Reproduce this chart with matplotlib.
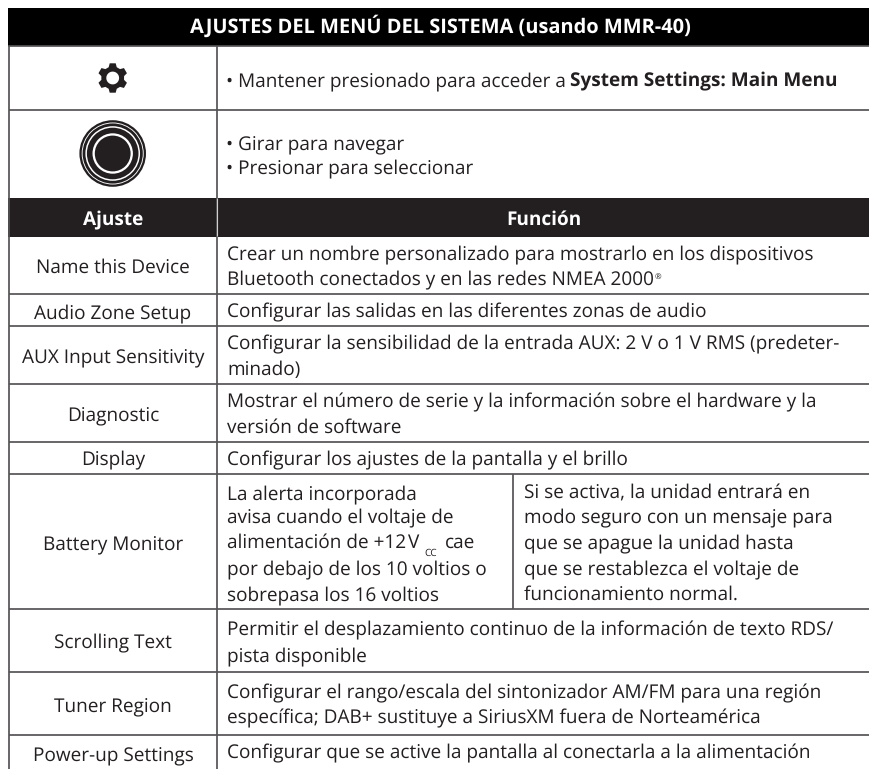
import numpy as np
import matplotlib
matplotlib.use("Agg")
import matplotlib.pyplot as plt
from matplotlib.patches import Rectangle, Circle, PathPatch
from matplotlib.path import Path

plt.rcParams["text.hinting"] = "no_hinting"
plt.rcParams["text.hinting_factor"] = 1

FONT = "Open Sans"
SIZE = 13.6
BOLD = 13.5
HEAD = 13.9
TITLE = 14.3
INK = "#231f20"
LINE = "#555355"

title = "AJUSTES DEL MENÚ DEL SISTEMA (usando MMR-40)"
intro_normal = "• Mantener presionado para acceder a "
intro_bold = "System Settings: Main Menu"
nav_lines = ["• Girar para navegar", "• Presionar para seleccionar"]
col_headers = ["Ajuste", "Función"]

settings = ["Name this Device", "Audio Zone Setup", "AUX Input Sensitivity", "Diagnostic",
            "Display", "Battery Monitor", "Scrolling Text", "Tuner Region", "Power-up Settings"]
setting_base = [272.5, 318, 363, 421, 465, 550, 648, 712, 761]

functions = [
    ("Crear un nombre personalizado para mostrarlo en los dispositivos", 259),
    ("Bluetooth conectados y en las redes NMEA 2000", 285),
    ("Configurar las salidas en las diferentes zonas de audio", 317),
    ("Configurar la sensibilidad de la entrada AUX: 2 V o 1 V RMS (predeter-", 349),
    ("minado)", 375),
    ("Mostrar el número de serie y la información sobre el hardware y la", 407),
    ("versión de software", 433),
    ("Configurar los ajustes de la pantalla y el brillo", 465),
    ("Permitir el desplazamiento continuo de la información de texto RDS/", 635),
    ("pista disponible", 661),
    ("Configurar el rango/escala del sintonizador AM/FM para una región", 698),
    ("específica; DAB+ sustituye a SiriusXM fuera de Norteamérica", 723),
    ("Configurar que se active la pantalla al conectarla a la alimentación", 758),
]
battery_left = [("La alerta incorporada", 499), ("avisa cuando el voltaje de", 523),
                ("alimentación de +12", 548), ("por debajo de los 10 voltios o", 575),
                ("sobrepasa los 16 voltios", 600)]
battery_right = [("Si se activa, la unidad entrará en", 499), ("modo seguro con un mensaje para", 523),
                 ("que se apague la unidad hasta", 549), ("que se restablezca el voltaje de", 575),
                 ("funcionamiento normal.", 600)]

row_lines = [110, 293.5, 326, 384, 441.5, 474, 609, 672, 735]
x_left, x_col, x_sub, x_right = 8.5, 217, 513, 869

fig = plt.figure(figsize=(8.69, 7.69), dpi=100)
ax = fig.add_axes([0, 0, 1, 1])
ax.set_xlim(0, 869)
ax.set_ylim(769, 0)
ax.axis("off")


def t(x, y, s, weight="normal", color=INK, ha="left", size=SIZE):
    return ax.text(x, y, s, family=FONT, fontsize=size, fontweight=weight, color=color,
                   ha=ha, va="baseline")


# header bands
ax.add_patch(Rectangle((x_left - .5, 8), x_right - x_left, 38, fc="#000000", ec="none"))
ax.add_patch(Rectangle((x_left - .5, 198), x_right - x_left, 38.5, fc=INK, ec="none"))

# grid
lw = 1.25
for y in row_lines:
    ax.plot([x_left, x_right], [y, y], color=LINE, lw=lw, solid_capstyle="butt")
ax.plot([x_left, x_right], [46, 46], color=LINE, lw=lw)
ax.plot([x_left, x_left], [46, 769], color=LINE, lw=lw, solid_capstyle="butt")
ax.plot([x_col, x_col], [46, 769], color=LINE, lw=lw, solid_capstyle="butt")
ax.plot([x_sub, x_sub], [474, 609], color=LINE, lw=lw, solid_capstyle="butt")
ax.plot([x_col, x_col], [198, 236], color="#cfcfcf", lw=0.8, solid_capstyle="butt")

# headings
t(440, 33, title, weight="bold", color="white", ha="center", size=TITLE)
t(113, 225, col_headers[0], weight="bold", color="white", ha="center", size=HEAD)
t(544, 225, col_headers[1], weight="bold", color="white", ha="center", size=HEAD)

# intro rows
t(226, 86, intro_normal)
t(570, 86, intro_bold, weight="bold", size=BOLD)
t(226, 150, nav_lines[0])
t(226, 173, nav_lines[1])

for name, y in zip(settings, setting_base):
    t(113, y, name, ha="center")
for s, y in functions:
    t(227, y, s)
for s, y in battery_left:
    t(227, y, s)
for s, y in battery_right:
    t(523.5, y, s)
t(655, 278.5, "®", size=6)
t(408, 548, "V")
t(424, 556, "CC", size=7.2)
t(445, 548, "cae")

# gear icon
cx, cy = 112.7, 78
n_teeth = 6
pts = []
for i in range(n_teeth):
    a = -np.pi / 2 + i * 2 * np.pi / n_teeth
    for da, r in [(-0.36, 11.5), (-0.2, 15), (0.2, 15), (0.36, 11.5)]:
        pts.append((cx + r * np.cos(a + da), cy + r * np.sin(a + da)))
verts = pts + [pts[0]]
codes = [Path.MOVETO] + [Path.LINETO] * (len(pts) - 1) + [Path.CLOSEPOLY]
th = np.linspace(0, 2 * np.pi, 49)
hole = [(cx + 6.4 * np.cos(a), cy - 6.4 * np.sin(a)) for a in th]
verts += hole
codes += [Path.MOVETO] + [Path.LINETO] * (len(hole) - 2) + [Path.CLOSEPOLY]
ax.add_patch(PathPatch(Path(verts, codes), fc=INK, ec="none"))

# knob icon
kx, ky = 112.7, 153.5
for r, c in [(33.3, INK), (31.0, "white"), (30.1, INK), (27.3, "white"), (25.8, INK),
             (20.2, "white"), (17.9, INK)]:
    ax.add_patch(Circle((kx, ky), r, fc=c, ec="none"))

fig.savefig("out.png", dpi=100, facecolor="white")
